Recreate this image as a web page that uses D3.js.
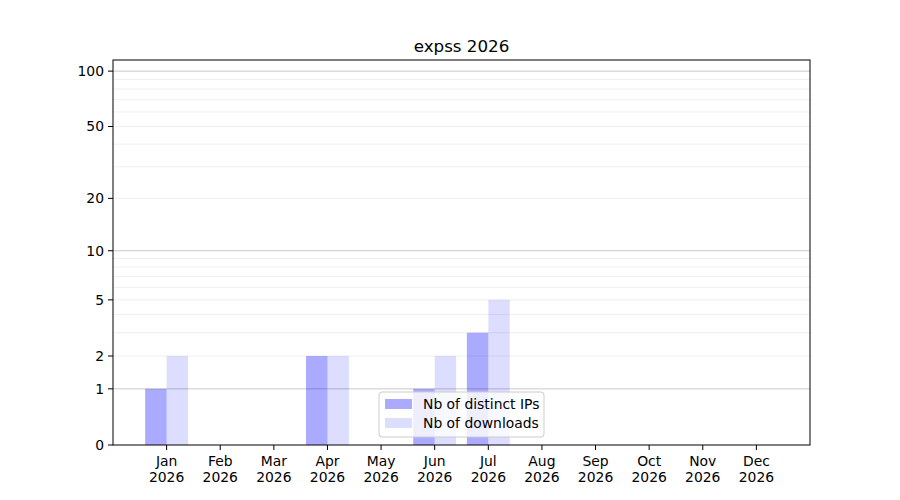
<!DOCTYPE html>
<html>
<head>
<meta charset="utf-8">
<script src="https://cdn.jsdelivr.net/npm/d3@7"></script>
<style>
  body { margin: 0; background: #fff; }
  svg text { font-family: "DejaVu Sans", sans-serif; }
</style>
</head>
<body>
<div id="chart"></div>
<script>
// data
var months = ["Jan", "Feb", "Mar", "Apr", "May", "Jun", "Jul", "Aug", "Sep", "Oct", "Nov", "Dec"];
var year = "2026";
var distinctIPs = [1, 0, 0, 2, 0, 1, 3, 0, 0, 0, 0, 0];
var downloads   = [2, 0, 0, 2, 0, 2, 5, 0, 0, 0, 0, 0];
var yTicks = [0, 1, 2, 5, 10, 20, 50, 100];
var title = "expss 2026";

var width = 900, height = 500;
var plotLeft = 113, plotRight = 810, plotTop = 60, plotBottom = 445;
var fontSize = "13.9px";

// y is log10(v + 1)
function tr(v) { return Math.log10(v + 1); }
var yScale = d3.scaleLinear().domain([0, 2.064]).range([plotBottom, plotTop]);
var xScale = d3.scaleLinear().domain([-1, 12]).range([plotLeft, plotRight]);
var barW = 0.4;

var svg = d3.select("#chart").append("svg")
    .attr("width", width)
    .attr("height", height);

// grid: minor lines, then major lines
var minor = [];
[1, 10].forEach(function(dec) {
    for (var k = 2; k <= 9; k++) minor.push(dec * k);
});
svg.append("g").selectAll("line")
    .data(minor)
    .enter().append("line")
    .attr("x1", plotLeft).attr("x2", plotRight)
    .attr("y1", function(d) { return yScale(tr(d)); })
    .attr("y2", function(d) { return yScale(tr(d)); })
    .attr("stroke", "#ebebeb")
    .attr("stroke-width", 0.8);

svg.append("g").selectAll("line")
    .data([1, 10, 100])
    .enter().append("line")
    .attr("x1", plotLeft).attr("x2", plotRight)
    .attr("y1", function(d) { return yScale(tr(d)); })
    .attr("y2", function(d) { return yScale(tr(d)); })
    .attr("stroke", "#c8c8c8")
    .attr("stroke-width", 1);

// bars
var bars = svg.append("g");
bars.selectAll(".ip")
    .data(distinctIPs)
    .enter().append("rect")
    .attr("x", function(d, i) { return xScale(i - barW); })
    .attr("width", xScale(barW) - xScale(0))
    .attr("y", function(d) { return yScale(tr(d)); })
    .attr("height", function(d) { return yScale(0) - yScale(tr(d)); })
    .attr("fill", "blue")
    .attr("fill-opacity", 0.333);

bars.selectAll(".dl")
    .data(downloads)
    .enter().append("rect")
    .attr("x", function(d, i) { return xScale(i); })
    .attr("width", xScale(barW) - xScale(0))
    .attr("y", function(d) { return yScale(tr(d)); })
    .attr("height", function(d) { return yScale(0) - yScale(tr(d)); })
    .attr("fill", "blue")
    .attr("fill-opacity", 0.135);

// axes frame
svg.append("rect")
    .attr("x", plotLeft).attr("y", plotTop)
    .attr("width", plotRight - plotLeft).attr("height", plotBottom - plotTop)
    .attr("fill", "none")
    .attr("stroke", "black")
    .attr("stroke-width", 1);

// y ticks
var yAxis = svg.append("g");
yAxis.selectAll("line")
    .data(yTicks)
    .enter().append("line")
    .attr("x1", plotLeft - 5).attr("x2", plotLeft)
    .attr("y1", function(d) { return yScale(tr(d)); })
    .attr("y2", function(d) { return yScale(tr(d)); })
    .attr("stroke", "black");
yAxis.selectAll("text")
    .data(yTicks)
    .enter().append("text")
    .attr("x", plotLeft - 9)
    .attr("y", function(d) { return yScale(tr(d)); })
    .attr("dy", "0.35em")
    .attr("text-anchor", "end")
    .attr("font-size", fontSize)
    .text(function(d) { return d; });

// x ticks
var xAxis = svg.append("g");
xAxis.selectAll("line")
    .data(months)
    .enter().append("line")
    .attr("x1", function(d, i) { return xScale(i); })
    .attr("x2", function(d, i) { return xScale(i); })
    .attr("y1", plotBottom).attr("y2", plotBottom + 5)
    .attr("stroke", "black");
var xLabels = xAxis.selectAll("text")
    .data(months)
    .enter().append("text")
    .attr("text-anchor", "middle")
    .attr("font-size", fontSize)
    .attr("transform", function(d, i) { return "translate(" + xScale(i) + "," + (plotBottom + 21) + ")"; });
xLabels.append("tspan").attr("x", 0).attr("y", 0).text(function(d) { return d; });
xLabels.append("tspan").attr("x", 0).attr("y", 16).text(year);

// title
svg.append("text")
    .attr("x", (plotLeft + plotRight) / 2)
    .attr("y", 52)
    .attr("text-anchor", "middle")
    .attr("font-size", "16.7px")
    .text(title);

// legend
var lg = svg.append("g").attr("transform", "translate(379,392)");
lg.append("rect")
    .attr("width", 165).attr("height", 45)
    .attr("rx", 3)
    .attr("fill", "white").attr("fill-opacity", 0.8)
    .attr("stroke", "#cccccc");
var legendItems = [["Nb of distinct IPs", 0.333], ["Nb of downloads", 0.135]];
var li = lg.selectAll(".item")
    .data(legendItems)
    .enter().append("g")
    .attr("transform", function(d, i) { return "translate(6," + (7 + i * 19) + ")"; });
li.append("rect")
    .attr("width", 27).attr("height", 10)
    .attr("fill", "blue")
    .attr("fill-opacity", function(d) { return d[1]; });
li.append("text")
    .attr("x", 38).attr("y", 5)
    .attr("dy", "0.35em")
    .attr("font-size", fontSize)
    .text(function(d) { return d[0]; });
</script>
</body>
</html>
